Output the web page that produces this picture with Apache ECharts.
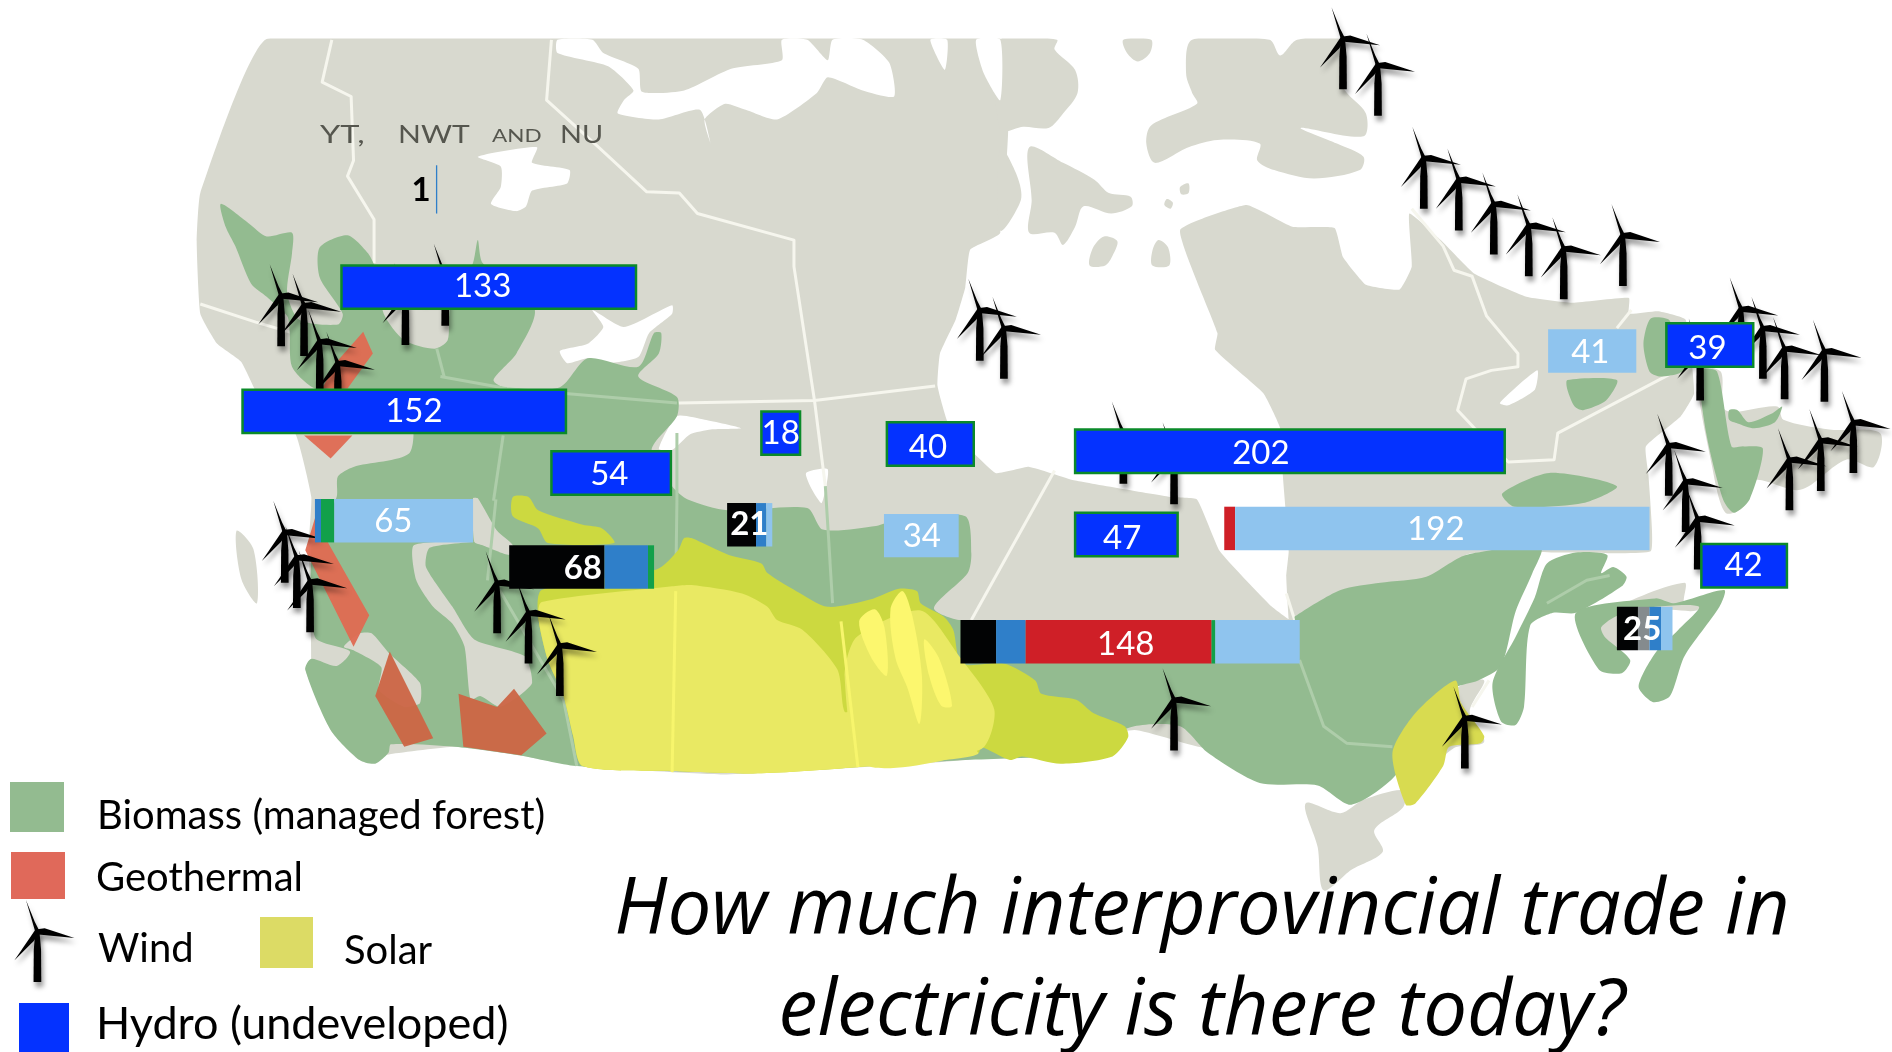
<!DOCTYPE html>
<html><head><meta charset="utf-8">
<style>html,body{margin:0;padding:0;background:#fff}#c{width:1892px;height:1052px}</style>
<script src="https://cdn.jsdelivr.net/npm/echarts@6/dist/echarts.min.js"></script>
</head><body><div id="c"></div>
<script>
// ---------- chart values (bar lengths; one unit = one label unit)
const regions   = ['North','NE BC','W BC','N AB','N SK','N MB','N ON','N QC','Labrador','Newfoundland','Gulf','S MB','S BC','S AB','S SK','S ON','S QC','NS'];
const totals    = ['1','133','152','54','18','40','202','47','41','39','42','34','65','68','21','148','192','25'];
const coalVals  = [0,0,0,0,0,0,0,0,0,0,0,0,0,43.9,13.3,16.4,0,9.7];
const grayVals  = [0,0,0,0,0,0,0,0,0,0,0,0,0,0,0,0,0,5.3];
const hydroGas  = [0.6,0,0,0,0,0,0,0,0,0,0,0,2.8,20,4.7,13.6,0,5.3];
const nuclear   = [0,0,0,0,0,0,0,0,0,0,0,0,0,0,0,85.6,5,0];
const renewable = [0,0,0,0,0,0,0,0,0,0,0,0,6.1,2.8,0,1.7,0,0];
const hydroBuilt= [0,0,0,0,0,0,0,0,40.6,0,0,34.4,63.9,0,2.8,38.9,190.8,5.3];
const hydroNew  = [0,135.6,148.9,55,17.8,40,197.8,47.2,0,40,39.4,0,0,0,0,0,0,0];

// ---------- layout of the picture, in a 1568 x 872 drawing space
const barLeft = [361.3,283,201,457,631,735,891,891,1283,1381,1410,732.6,261,422,602.6,796,1014.6,1340];
const barTop  = [137,220,323,374,341,350,356,425,273,268,451,426,413.6,452,417,514,420,503];
const labelX  = [349,400,343,505,647,769,1045,930,1318,1415,1445,764,326,483,621,933,1190,1361];
const labelY  = [158,237,341,393,359,371,376,446,292,289,469,445,432,471,435,534,439,522];
const unitW = 1.8, barH = 36;

const topCover = [[0,0],[1568,0],[1568,32],[0,32]];
const landWest = [[222,32],[829,32],[829,193],[804,207],[800,238],[792,265],[779,293],[777,320],[787,354],[825,392],[853,387],[890,398],[971,412],[992,414],[1011,457],[1052,501],[1068,513],[1100,520],[1100,600],[1000,620],[940,605],[800,630],[600,642],[480,635],[430,626],[377,619],[324,625],[298,630],[274,605],[253,555],[258,546],[256,450],[258,412],[245,360],[215,330],[200,300],[180,285],[166,260],[163,200],[166,160]];
const landEast = [[1068,513],[1066,478],[1068,457],[1063,392],[1061,355],[1047,326],[1007,290],[1009,276],[978,191],[1033,170],[1071,188],[1106,189],[1113,213],[1132,236],[1160,240],[1170,221],[1168,177],[1194,199],[1222,227],[1265,246],[1303,251],[1350,247],[1350,260],[1374,258],[1397,265],[1404,326],[1393,345],[1364,370],[1366,392],[1368,420],[1368,457],[1300,458],[1215,460],[1240,520],[1200,570],[1073,600]];
const isles = [
 [[988,33],[1052,33],[1061,46],[1075,33],[1111,33],[1113,72],[1132,94],[1130,113],[1078,106],[1108,119],[1130,130],[1127,141],[1089,148],[1056,141],[1042,133],[1044,119],[1009,116],[985,122],[957,135],[950,119],[954,104],[992,86],[988,77],[983,61]],
 [[931,33],[954,33],[953,44],[943,51],[934,44]],
 [[829,33],[876,33],[874,41],[891,58],[893,77],[881,94],[869,106],[848,105],[829,108]],
 [[853,122],[881,135],[907,149],[919,160],[937,163],[938,171],[921,177],[898,171],[891,188],[881,203],[874,193],[853,193],[855,166]],
 [[829,122],[843,146],[846,166],[829,191]],
 [[915,196],[926,200],[922,212],[916,220],[903,220],[906,205]],
 [[960,199],[968,205],[969,220],[955,220],[955,208]],
 [[978,155],[985,152],[985,160],[979,161]],
 [[967,165],[972,168],[970,173],[965,170]],
 [[1407,307],[1426,308],[1430,340],[1473,337],[1478,348],[1516,356],[1558,359],[1553,387],[1530,381],[1492,406],[1454,398],[1445,420],[1430,425],[1419,387]],
 [[1082,666],[1111,674],[1130,663],[1163,655],[1163,669],[1139,688],[1146,706],[1120,721],[1097,738],[1092,702]],
 [[1206,572],[1230,564],[1218,590],[1230,615],[1205,620],[1170,650]],
 [[1334,506],[1396,483],[1396,500],[1411,497],[1406,506],[1377,507],[1339,541],[1325,519]],
 [[196,440],[210,455],[213,500],[200,480]]
];
const lakes = [
 [[462,33],[491,33],[500,44],[529,57],[532,76],[567,75],[606,57],[648,50],[648,33],[669,33],[686,50],[690,33],[715,33],[737,52],[741,80],[715,75],[686,64],[677,77],[644,99],[618,91],[601,86],[584,99],[589,119],[580,91],[546,99],[512,94],[517,83],[525,75],[504,55],[462,44]],
 [[771,33],[785,33],[783,58]],
 [[809,33],[829,33],[829,83],[815,60]],
 [[396,130],[445,122],[441,135],[472,141],[470,152],[441,158],[436,171],[428,175],[407,169],[415,155],[415,138]],
 [[491,257],[517,271],[557,253],[557,260],[538,276],[529,296],[504,301],[487,297],[470,301],[464,291],[487,285],[500,271]],
 [[546,372],[561,345],[584,348],[614,355],[589,356],[572,360],[557,373]],
 [[668,392],[686,389],[681,417],[673,406]],
 [[1243,334],[1274,307],[1272,323],[1250,336]]
];
const borders = [
 [[275,33],[267,68],[291,80],[293,133],[288,146],[310,182],[310,218]],
 [[457,33],[453,83],[496,122],[536,159],[563,160],[578,177],[658,199],[658,221],[675,332],[684,403]],
 [[166,252],[212,267],[365,312],[420,322],[563,334],[675,332],[775,320]],
 [[874,390],[805,514]],
 [[1170,173],[1196,204],[1205,224],[1220,229],[1232,262],[1258,293],[1258,304],[1236,307],[1215,314],[1208,340],[1222,355],[1250,383],[1288,381],[1291,359],[1388,308]],
 [[1340,272],[1352,257]],
 [[1066,492],[1073,514]],
 [[1234,564],[1220,586]]
];
const greenAreas = [
 [[183,169],[206,185],[221,196],[242,193],[242,210],[238,243],[248,265],[280,269],[284,260],[265,230],[265,205],[288,195],[305,210],[312,225],[318,260],[335,282],[360,289],[371,282],[373,256],[392,218],[396,199],[400,218],[443,256],[428,293],[409,315],[420,322],[464,321],[487,297],[529,304],[542,276],[548,276],[546,293],[529,312],[561,329],[561,345],[540,373],[557,403],[570,414],[603,423],[669,421],[682,439],[726,436],[745,430],[800,428],[805,459],[802,475],[774,504],[796,514],[1073,514],[1073,511],[1111,489],[1144,483],[1182,478],[1215,460],[1277,454],[1270,475],[1256,507],[1244,552],[1225,564],[1206,570],[1168,602],[1158,641],[1120,667],[1092,651],[1044,649],[1001,624],[978,602],[940,602],[880,625],[800,630],[600,640],[478,635],[430,626],[377,619],[324,617],[322,624],[311,633],[298,630],[274,605],[253,555],[258,546],[279,552],[290,540],[261,528],[258,452],[261,450],[279,412],[280,395],[293,387],[339,376],[339,345],[261,322],[242,304],[240,274],[238,262],[221,246],[208,235],[195,204],[187,188]],
 [[1282,467],[1306,458],[1332,460],[1327,475],[1337,470],[1348,478],[1344,486],[1306,508],[1287,508],[1268,519],[1263,586],[1256,601],[1244,598],[1237,566],[1256,528],[1272,495]],
 [[1306,508],[1372,496],[1387,500],[1429,489],[1425,503],[1396,544],[1384,577],[1370,582],[1358,569],[1372,541],[1391,522],[1408,503],[1372,503],[1341,510],[1327,520],[1330,528],[1351,547],[1344,558],[1325,555]],
 [[1409,307],[1423,308],[1435,370],[1445,370],[1461,372],[1450,414],[1437,425],[1428,414],[1414,359]],
 [[1433,340],[1440,340],[1449,350],[1468,343],[1477,337],[1471,350],[1454,355],[1440,351],[1433,348]],
 [[1362,285],[1368,264],[1384,266],[1384,300],[1400,304],[1390,310],[1375,312],[1367,308]],
 [[1299,315],[1340,315],[1331,332],[1312,340],[1305,337],[1299,323]],
 [[1245,409],[1284,392],[1340,403],[1312,417],[1255,420]]
];
const gapAreas = [
 [[343,452],[393,449],[356,454],[353,470],[375,503],[393,530],[435,544],[441,566],[430,577],[414,586],[398,577],[390,580],[385,536],[375,517],[359,503],[345,481]],
 [[298,525],[308,525],[322,541],[348,566],[348,583],[335,586],[314,572],[316,553],[293,539],[285,536]],
 [[392,413],[396,413],[412,440],[425,452],[422,460],[400,452],[393,449]]
];
const greenBorders = [
 [[362,289],[368,312]],
 [[365,312],[420,322],[561,334]],
 [[417,361],[409,415]],
 [[561,359],[561,415],[560,490]],
 [[684,403],[690,500]],
 [[411,414],[404,481]],
 [[414,489],[467,580],[478,635]],
 [[1077,547],[1097,602],[1116,616],[1154,619]],
 [[1282,500],[1315,481],[1334,477]]
];
const oliveAreas = [
 [[449,489],[544,472],[562,456],[567,446],[573,446],[604,460],[631,467],[636,475],[660,490],[686,503],[721,497],[745,488],[760,490],[763,500],[782,511],[790,522],[797,550],[832,550],[858,564],[863,575],[892,580],[906,591],[932,602],[935,611],[922,627],[879,633],[847,627],[837,630],[813,619],[811,624],[721,635],[631,641],[557,639],[483,635],[475,610],[467,577],[454,547],[446,511]],
 [[425,412],[438,412],[446,423],[483,435],[499,438],[509,450],[454,450],[446,438],[425,428]]
];
const eastSolar = [[[1206,564],[1211,583],[1230,610],[1227,616],[1201,619],[1196,635],[1173,666],[1165,667],[1154,624],[1173,591]]];
const sunAreas = [
 [[449,499],[557,486],[573,485],[615,492],[636,503],[644,514],[665,522],[694,555],[700,590],[710,588],[811,624],[721,635],[631,641],[557,639],[483,635],[475,610],[467,577],[454,547],[446,511]],
 [[710,528],[763,506],[795,544],[824,588],[813,621],[716,634],[700,561]]
];
const sunPeak = [
 [[712,515],[725,505],[733,520],[735,560],[722,545]],
 [[738,505],[748,490],[756,510],[764,560],[762,600],[752,570],[742,545]],
 [[766,530],[778,545],[789,585],[780,585],[770,560]]
];
const sunBorders = [[[560,490],[557,640]],[[697,515],[711,636]]];
const geoNorth = [
 [[301,275],[309,293],[288,322],[267,322],[278,301]],
 [[252,361],[292,361],[274,380]],
 [[263,423],[272,450],[306,510],[293,536],[253,456]]
];
const geoSouth = [
 [[323,540],[359,612],[335,619],[311,577]],
 [[380,575],[412,586],[426,571],[453,608],[432,626],[384,619]]
];
const turbines = [[1113,32],[1142,54],[1180,131],[1209,149],[1238,169],[1267,187],[1296,206],[1345,195],[1443,256],[1461,272],[1479,289],[1512,291],[1409,290],[1383,369],[1397,399],[1483,381],[1509,365],[1536,350],[1407,430],[931,359],[973,376],[233,245],[252,253],[265,283],[280,301],[336,244],[369,228],[812,257],[832,272],[236,441],[246,462],[257,482],[412,483],[438,508],[464,535],[973,580],[1214,595],[31,772]];

const C = {land:'#d8d9cf',white:'#ffffff',green:'#93bb90',greenLine:'#aecdaa',olive:'#ccd940',east:'#d8db50',sun:'#e9e963',peak:'#fcf76e',geo:'#df6a52',geoDark:'#cc6544',
  black:'#020304',gray:'#858b8e',mid:'#2f7fc9',red:'#cf1f27',ok:'#12a04a',light:'#8fc4ee',hydro:'#0432ff',edge:'#0b8a2a'};

// ---------- helpers
function areaSeries(list,color,z,smooth,opacity){
  return {type:'custom',coordinateSystem:'cartesian2d',clip:false,silent:true,z:z,animation:false,
    data:list.map((_,i)=>[i,0]),encode:{x:0,y:1},
    renderItem:(p,api)=>({type:'polygon',shape:{points:list[p.dataIndex].map(q=>api.coord(q)),smooth:smooth},
      style:{fill:color,opacity:opacity==null?1:opacity}})};
}
function lineSeries(list,color,w,z){
  return {type:'custom',coordinateSystem:'cartesian2d',clip:false,silent:true,z:z,animation:false,
    data:list.map((_,i)=>[i,0]),encode:{x:0,y:1},
    renderItem:(p,api)=>({type:'polyline',shape:{points:list[p.dataIndex].map(q=>api.coord(q))},
      style:{stroke:color,lineWidth:w,fill:null,lineJoin:'round'}})};
}
// one turbine: blades and tower around the hub, sized in the same drawing space
function turbineItem(p,api){
  const h=turbines[p.dataIndex];
  const P=(dx,dy)=>api.coord([h[0]+dx,h[1]+dy]);
  const shadow={shadowBlur:5,shadowColor:'rgba(0,0,0,.4)',shadowOffsetX:2,shadowOffsetY:5,fill:'#000'};
  const poly=pts=>({type:'polygon',shape:{points:pts.map(a=>P(a[0],a[1]))},style:shadow});
  return {type:'group',children:[
    poly([[-1.6,-1],[1.6,-1],[3,15],[3.2,42],[-3.2,42],[-3,15]]),
    poly([[-9.5,-26],[-2.2,-8],[1.8,0],[-1.6,1]]),
    poly([[30.7,5.5],[6,-2.6],[0,-1.8],[1,2.6]]),
    poly([[-19,24],[-1.6,-1.5],[1.6,1.5],[-3,8]])
  ]};
}
// stacked bar segments for every region, in stack order
const stackKeys=[[coalVals,C.black],[grayVals,C.gray],[hydroGas,C.mid],[nuclear,C.red],[renewable,C.ok],[hydroBuilt,C.light],[hydroNew,C.hydro]];
const segments=[];
regions.forEach((r,i)=>{let cum=0;stackKeys.forEach(k=>{const v=k[0][i];if(v>0){segments.push({i,from:cum,len:v,color:k[1]});cum+=v;}});});

const option={
  animation:false,backgroundColor:'#ffffff',
  title:{text:'How much interprovincial trade in\nelectricity is there today?',left:1197,top:856,textAlign:'center',
    textStyle:{fontFamily:'"Open Sans"',fontStyle:'italic',fontWeight:400,fontSize:78,lineHeight:101,color:'#000'}},
  grid:{left:0,right:0,top:0,bottom:0},
  xAxis:{type:'value',min:0,max:1568,show:false},
  yAxis:{type:'value',min:0,max:872,inverse:true,show:false},
  graphic:{elements:[
    {type:'rect',z:50,left:10,top:782,shape:{width:54,height:50},style:{fill:C.green}},
    {type:'rect',z:50,left:11,top:852,shape:{width:54,height:47},style:{fill:'#e0695a'}},
    {type:'rect',z:50,left:260,top:917,shape:{width:53,height:51},style:{fill:'#dcdb65'}},
    {type:'rect',z:50,left:19,top:1003,shape:{width:50,height:49},style:{fill:'#0432ff'}},
    {type:'text',z:50,left:97,top:796,style:{text:'Biomass (managed forest)',font:'40px Lato',fill:'#000'}},
    {type:'text',z:50,left:96,top:858,style:{text:'Geothermal',font:'40px Lato',fill:'#000'}},
    {type:'text',z:50,left:98,top:929,style:{text:'Wind',font:'40px Lato',fill:'#000'}},
    {type:'text',z:50,left:344,top:931,style:{text:'Solar',font:'40px Lato',fill:'#000'}},
    {type:'text',z:50,left:96,top:1002,style:{text:'Hydro (undeveloped)',font:'45px Lato',fill:'#000'}},
    {type:'text',z:50,left:320,top:122,style:{text:'YT,',font:'400 25px Lato',fill:'#55564e'},scaleX:1.3,originX:320},
    {type:'text',z:50,left:398,top:122,style:{text:'NWT',font:'400 25px Lato',fill:'#55564e'},scaleX:1.2,originX:398},
    {type:'text',z:50,left:492,top:127,style:{text:'AND',font:'400 18px Lato',fill:'#55564e'},scaleX:1.25,originX:492},
    {type:'text',z:50,left:560,top:122,style:{text:'NU',font:'400 25px Lato',fill:'#55564e'},scaleX:1.15,originX:560}
  ]},
  series:[
    areaSeries([landWest,landEast],C.land,1,0.12),
    areaSeries(isles,C.land,2,0.3),
    areaSeries(lakes,C.white,3,0.2),
    areaSeries([topCover],C.white,3,0),
    lineSeries(borders,'#f6f6ee',3,4),
    areaSeries(greenAreas,C.green,5,0.25),
    areaSeries(gapAreas,C.land,6,0.2),
    lineSeries(greenBorders,C.greenLine,3,7),
    areaSeries(oliveAreas,C.olive,8,0.25),
    areaSeries(eastSolar,C.east,8,0.25),
    areaSeries(sunAreas,C.sun,9,0.25),
    areaSeries(sunPeak,C.peak,10,0.3),
    lineSeries(sunBorders,'#f7f56c',3,10),
    areaSeries(geoNorth,C.geo,11,0,0.95),
    areaSeries(geoSouth,C.geoDark,11,0,0.95),
    {type:'custom',coordinateSystem:'cartesian2d',clip:false,silent:true,z:12,animation:false,
      data:turbines.map((_,i)=>[i,0]),encode:{x:0,y:1},renderItem:turbineItem},
    {type:'custom',coordinateSystem:'cartesian2d',clip:false,silent:true,z:13,animation:false,
      data:segments.map((s,i)=>[i,0]),encode:{x:0,y:1},
      renderItem:(p,api)=>{
        const s=segments[p.dataIndex];
        const x0=barLeft[s.i]+s.from*unitW, t=barTop[s.i];
        const a=api.coord([x0,t]), b=api.coord([x0+s.len*unitW,t+(s.i===0?40:barH)]);
        const isNew=s.color===C.hydro;
        return {type:'rect',shape:{x:a[0],y:a[1],width:b[0]-a[0],height:b[1]-a[1]},
          style:{fill:s.color,stroke:isNew?C.edge:null,lineWidth:isNew?2.5:0}};
      }},
    {type:'custom',coordinateSystem:'cartesian2d',clip:false,silent:true,z:14,animation:false,
      data:totals.map((_,i)=>[i,0]),encode:{x:0,y:1},
      renderItem:(p,api)=>{
        const i=p.dataIndex, bold=i===0||i===13||i===14||i===17;
        const c=api.coord([labelX[i],labelY[i]]);
        return {type:'text',style:{text:totals[i],x:c[0],y:c[1],align:'center',verticalAlign:'middle',
          font:(bold?'700 ':'400 ')+'33px Lato',fill:i===0?'#000':'#fff'}};
      }}
  ]
};
echarts.init(document.getElementById('c')).setOption(option);
</script></body></html>
